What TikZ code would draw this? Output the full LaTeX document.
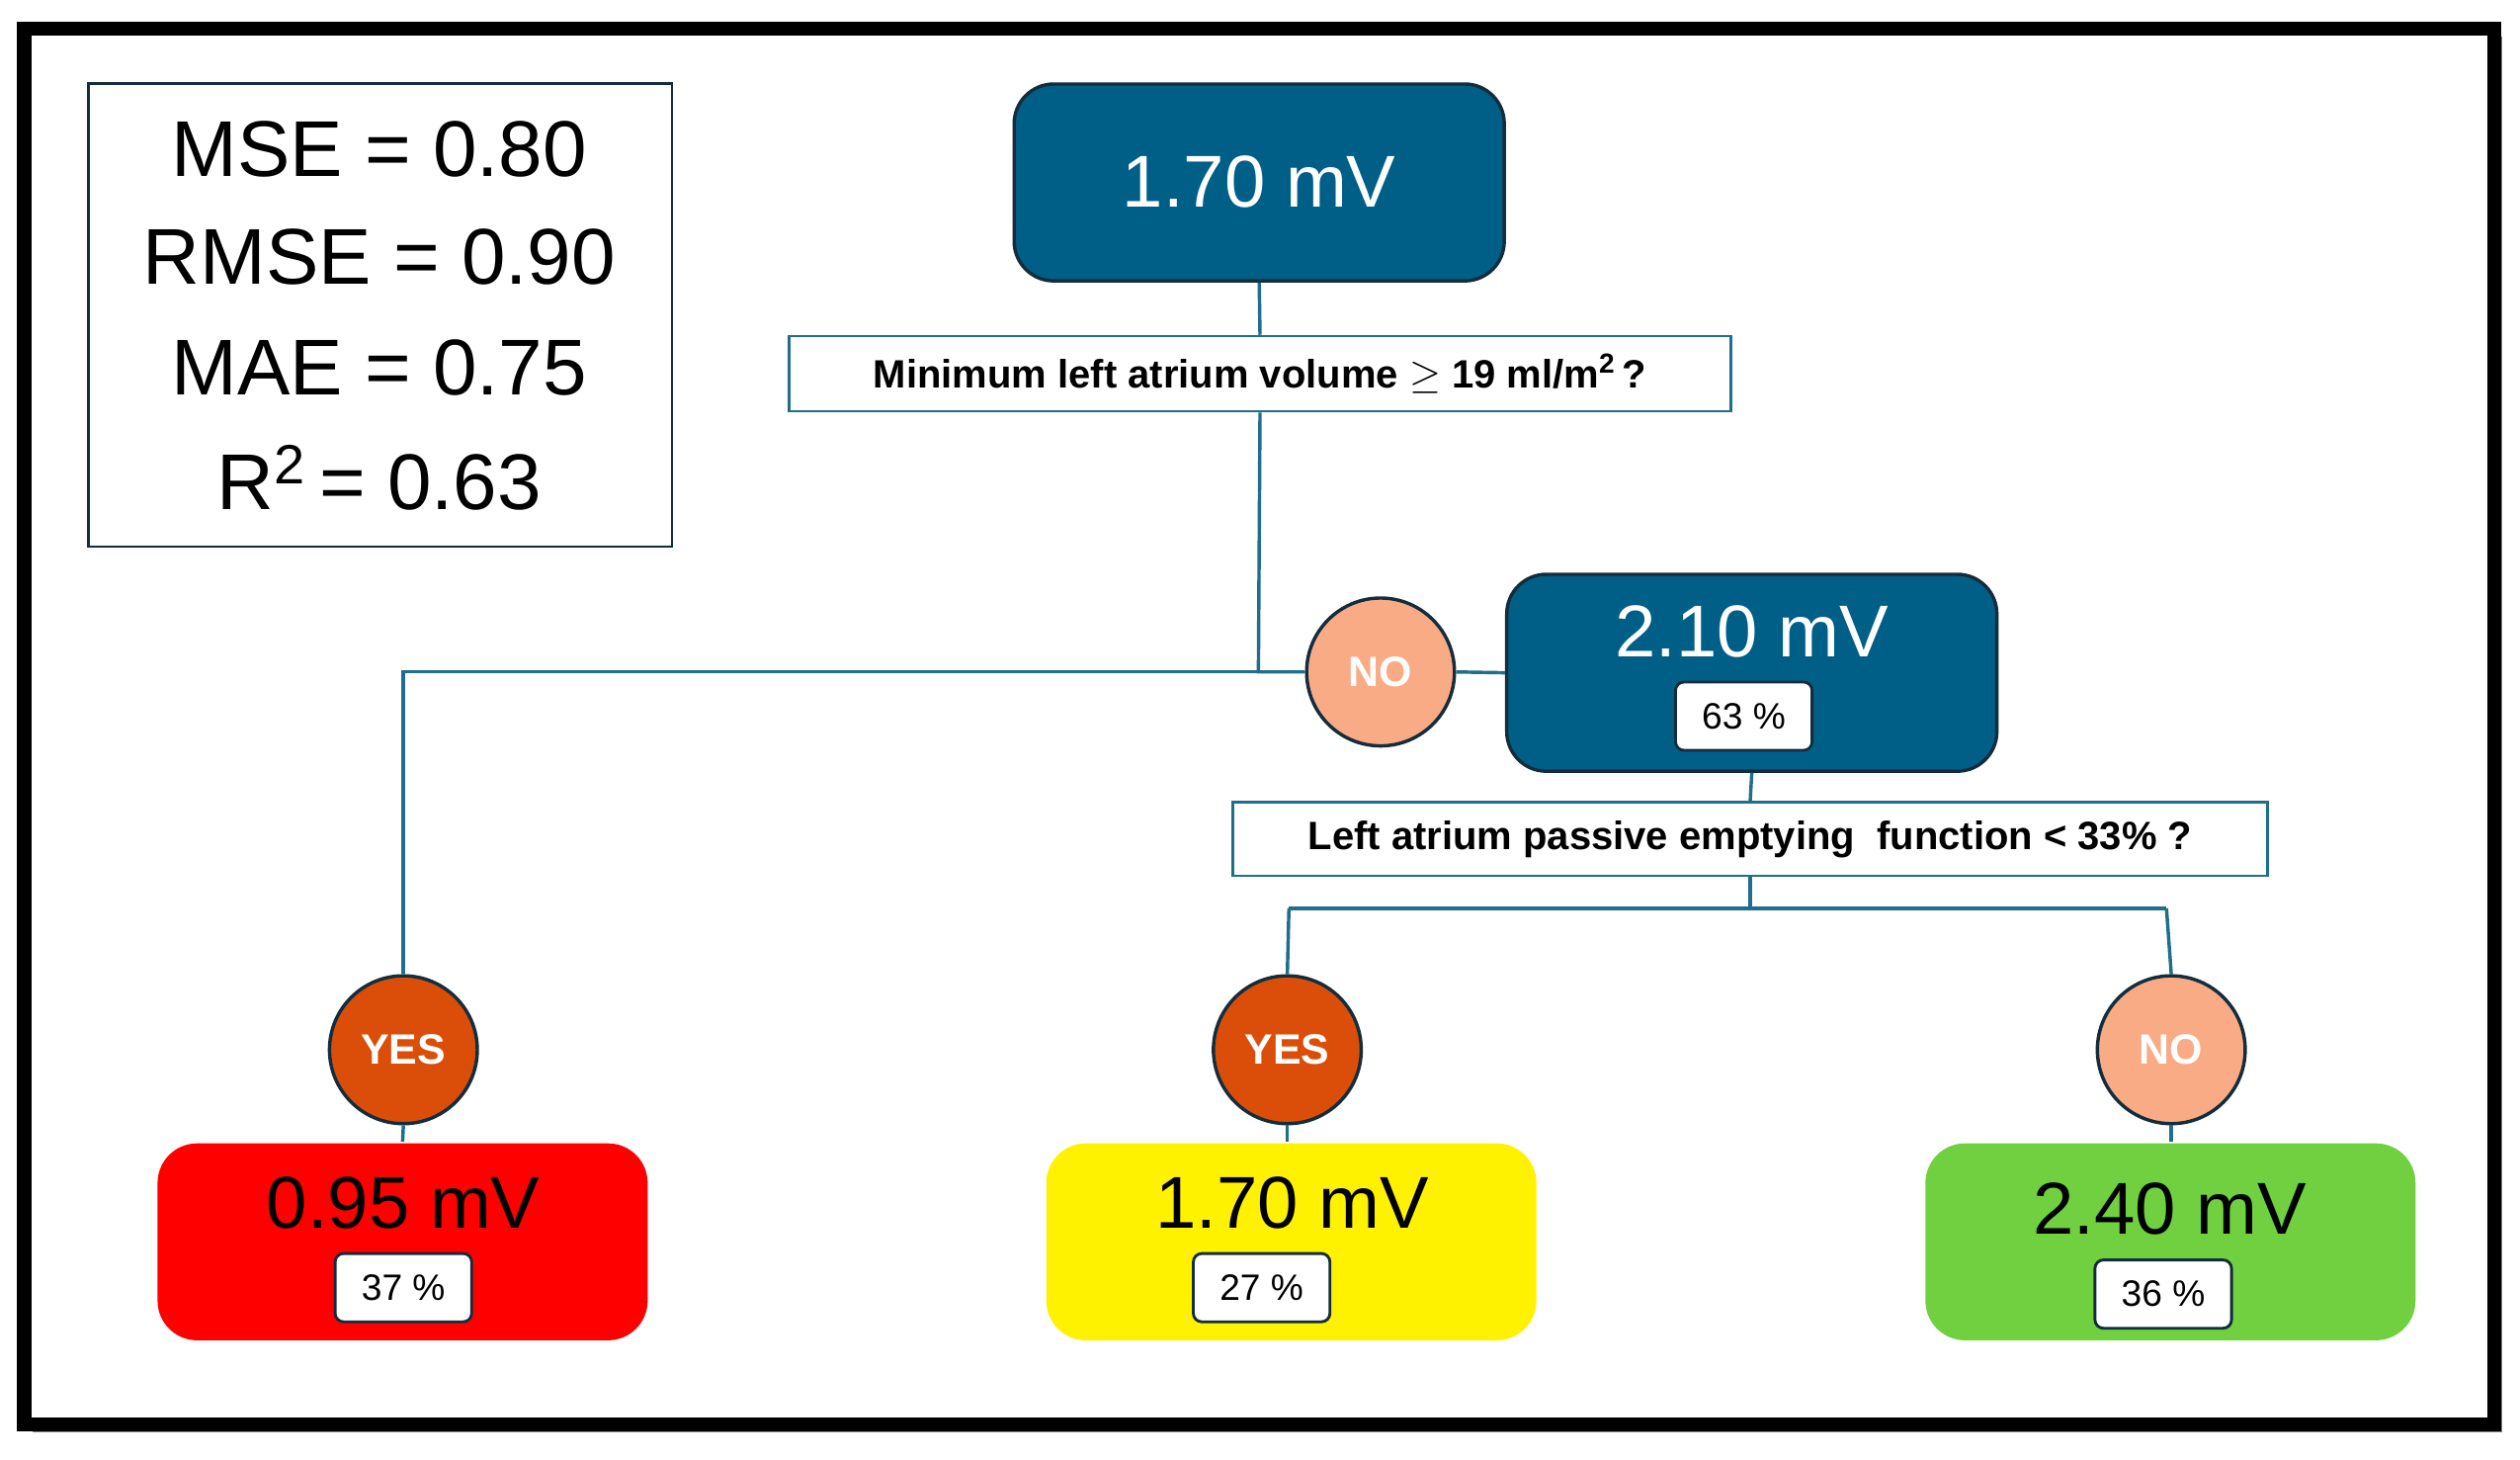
\documentclass[tikz,border=0pt]{standalone}
\usepackage{fontspec}
\setmainfont{Liberation Sans}
\usepackage{amssymb}
\definecolor{navy}{RGB}{0,95,135}
\definecolor{edge}{RGB}{20,45,60}
\definecolor{teal}{RGB}{30,110,140}
\definecolor{peach}{RGB}{249,171,133}
\definecolor{rust}{RGB}{218,78,10}
\definecolor{lgreen}{RGB}{112,208,64}
\begin{document}
\begin{tikzpicture}[x=0.02cm,y=-0.02cm,
  val/.style={rounded corners=14, minimum width=6.1cm, minimum height=2.45cm, line width=1.2pt},
  q/.style={draw=teal, fill=white, line width=0.8pt, font=\bfseries\fontsize{14}{16}\selectfont},
  circ/.style={circle, draw=edge, line width=1.2pt, minimum size=1.84cm, inner sep=0pt, text=white, font=\bfseries\fontsize{15}{17}\selectfont},
  pct/.style={draw=edge, fill=white, rounded corners=3, line width=1pt, minimum width=1.7cm, minimum height=0.85cm, font=\fontsize{13}{15}\selectfont},
  ln/.style={draw=teal, line width=1.2pt}]
\useasboundingbox (0,0) rectangle (1568,908);
\fill[black!50] (20,23) rectangle (1557,891);
\draw[line width=5pt, fill=white] (15,18) rectangle (1552,886);
% metrics
\node[draw=edge, line width=0.8pt, minimum width=7.26cm, minimum height=5.76cm] (m) at (236.5,196) {};
\foreach \t/\y in {{MSE = 0.80}/93,{RMSE = 0.90}/160,{MAE = 0.75}/229,{R\textsuperscript{2}\,= 0.63}/297}
  \node[font=\fontsize{28}{30}\selectfont] at (236,\y) {\t};
% nodes
\node[val, fill=navy, draw=edge] (root) at (783.5,113.5) {};
\node[text=white, font=\fontsize{26}{28}\selectfont] at (783.5,113) {1.70 mV};
\node[q, minimum width=11.72cm, minimum height=0.94cm] (q1) at (784,232.5) {Minimum left atrium volume $\geq$ 19 ml/m\textsuperscript{2}\,?};
\node[circ, fill=peach] (no1) at (859,418) {NO};
\node[val, fill=navy, draw=edge] (mid) at (1090,418.5) {};
\node[text=white, font=\fontsize{26}{28}\selectfont] at (1090,393) {2.10 mV};
\node[pct] (p63) at (1085,445.5) {63 \%};
\node[q, minimum width=12.88cm, minimum height=0.92cm] (q2) at (1089,522) {Left atrium passive emptying\ \ function < 33\% ?};
\node[circ, fill=rust] (y1) at (251,653) {YES};
\node[circ, fill=rust] (y2) at (801,653) {YES};
\node[circ, fill=peach] (no2) at (1351,653) {NO};
\node[val, fill=red, draw=none] (l1) at (250.5,772.5) {};
\node[val, fill=yellow, draw=none] (l2) at (803.5,772.5) {};
\node[val, fill=lgreen, draw=none] (l3) at (1350.5,772.5) {};
\node[font=\fontsize{26}{28}\selectfont] at (251,748) {0.95 mV};
\node[font=\fontsize{26}{28}\selectfont] at (804,748) {1.70 mV};
\node[font=\fontsize{26}{28}\selectfont] at (1350,752) {2.40 mV};
\node[pct] (p37) at (251,801) {37 \%};
\node[pct] (p27) at (785,801) {27 \%};
\node[pct] (p36) at (1346,805) {36 \%};
% connectors
\coordinate (j1) at (783,418);
\coordinate (j2) at (251,418);
\coordinate (j3) at (1089,565);
\coordinate (j4) at (802,565);
\coordinate (j5) at (1348,565);
\draw[ln] (root.south) -- (q1.north);
\draw[ln] (q1.south) -- (j1) -- (no1.west);
\draw[ln] (no1.east) -- (mid.west);
\draw[ln] (j1) -- (j2) -- (y1.north);
\draw[ln] (y1.south) -- (l1.north);
\draw[ln] (mid.south) -- (q2.north);
\draw[ln] (q2.south) -- (j3);
\draw[ln] (j4) -- (j5);
\draw[ln] (j4) -- (y2.north);
\draw[ln] (j5) -- (no2.north);
\draw[ln] (y2.south) -- (y2.south|-l2.north);
\draw[ln] (no2.south) -- (no2.south|-l3.north);
\end{tikzpicture}
\end{document}
